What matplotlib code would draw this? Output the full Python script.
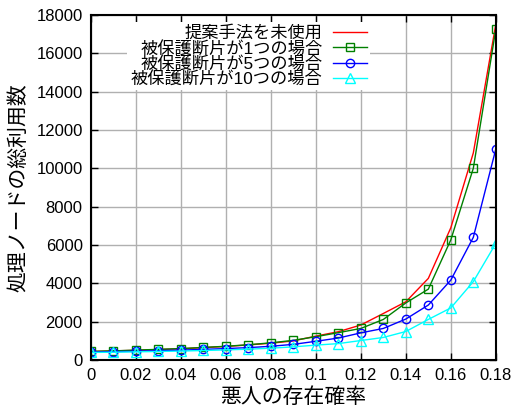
import matplotlib
matplotlib.use('Agg')
import matplotlib.pyplot as plt

plt.rcParams['font.family'] = ['Liberation Sans', 'Noto Sans CJK JP']

# 悪人の存在確率
prob = [0.00, 0.01, 0.02, 0.03, 0.04, 0.05, 0.06, 0.07, 0.08, 0.09,
        0.10, 0.11, 0.12, 0.13, 0.14, 0.15, 0.16, 0.17, 0.18]

# 処理ノードの総利用数
no_method = [450, 480, 510, 550, 590, 650, 710, 790, 880, 1000,
             1250, 1480, 1830, 2430, 3040, 4260, 6900, 10800, 17500]
frag1 = [450, 480, 520, 560, 600, 660, 720, 800, 900, 1030,
         1220, 1430, 1650, 2120, 2980, 3700, 6270, 10000, 17250]
frag5 = [420, 440, 460, 490, 520, 560, 600, 650, 720, 820,
         980, 1150, 1420, 1650, 2140, 2870, 4170, 6400, 11000]
frag10 = [400, 410, 430, 450, 470, 500, 530, 570, 620, 690,
          780, 860, 1020, 1180, 1490, 2120, 2720, 4090, 6080]

labels = ["提案手法を未使用", "被保護断片が1つの場合",
          "被保護断片が5つの場合", "被保護断片が10つの場合"]

xticks = [0, 0.02, 0.04, 0.06, 0.08, 0.1, 0.12, 0.14, 0.16, 0.18]
xticklabels = ["0", "0.02", "0.04", "0.06", "0.08", "0.1", "0.12", "0.14", "0.16", "0.18"]
yticks = [0, 2000, 4000, 6000, 8000, 10000, 12000, 14000, 16000, 18000]

fig = plt.figure(figsize=(5.17, 4.12), dpi=100)
ax = fig.add_axes([0.176, 0.126, 0.783, 0.838])

ax.plot(prob, no_method, '-', color='#ff0000', lw=1.0, label=labels[0])
ax.plot(prob, frag1, 's-', color='#008000', lw=1.0, ms=5.5, mfc='none',
        mew=1.0, label=labels[1])
ax.plot(prob, frag5, 'o-', color='#0000ff', lw=1.0, ms=6, mfc='none',
        mew=1.0, label=labels[2])
ax.plot(prob, frag10, '^-', color='#00ffff', lw=1.0, ms=6.5, mfc='none',
        mew=1.0, label=labels[3])

ax.set_xlim(0, 0.18)
ax.set_ylim(0, 18000)
ax.set_xticks(xticks)
ax.set_xticklabels(xticklabels)
ax.set_yticks(yticks)
ax.tick_params(direction='in', top=True, right=True, length=5, width=1.0,
               labelsize=12, pad=6)
ax.grid(True, color='#b0b0b0', lw=1.0)
ax.set_axisbelow(True)
for s in ax.spines.values():
    s.set_linewidth(1.5)

ax.set_xlabel("悪人の存在確率", fontsize=15, labelpad=3)
ax.set_ylabel("処理ノードの総利用数", fontsize=15, labelpad=6)

leg = ax.legend(loc='upper right', bbox_to_anchor=(370 / 517, 1 - 22 / 412),
                bbox_transform=fig.transFigure, markerfirst=False,
                fontsize=12.4, handlelength=1.95, handletextpad=0.6,
                labelspacing=-0.04, borderpad=0.2, borderaxespad=0,
                frameon=True, fancybox=False, framealpha=1.0)
leg.get_frame().set_edgecolor('none')
leg.get_frame().set_facecolor('white')

fig.savefig('out.png', dpi=100)
